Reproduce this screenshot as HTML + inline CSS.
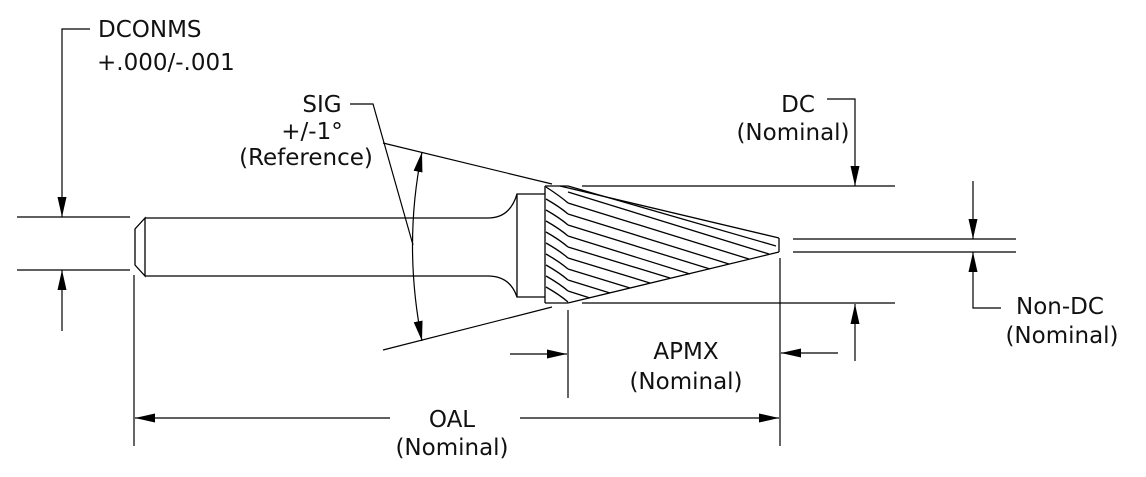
<!DOCTYPE html>
<html><head><meta charset="utf-8"><style>
html,body{margin:0;padding:0;background:#fff;}
svg{display:block;}
text{font-family:"DejaVu Sans","Liberation Sans",sans-serif;font-size:23px;fill:#111;}
</style></head><body>
<svg width="1146" height="477" viewBox="0 0 1146 477" xmlns="http://www.w3.org/2000/svg">
<defs>
<marker id="a" viewBox="0 0 20 9" refX="20" refY="4.5" markerWidth="20" markerHeight="9" markerUnits="userSpaceOnUse" orient="auto-start-reverse">
<path d="M0,0 L20,4.5 L0,9 Z" fill="#000"/></marker>
</defs>
<g stroke="#000" stroke-width="1.3" fill="none">
<path d="M145,218 L488,218 Q510,218 517,194 L545,194"/>
<path d="M145,276 L488,276 Q510,276 517,297 L545,297"/>
<path d="M145,218 L135,229 L135,265 L145,276 Z"/>
<line x1="517" y1="194" x2="517" y2="297"/>
<line x1="545" y1="186" x2="545" y2="303"/>
<line x1="545" y1="186" x2="568" y2="186"/>
<line x1="545" y1="303" x2="568" y2="303"/>
<line x1="560" y1="186" x2="779" y2="238"/>
<line x1="568" y1="303" x2="779" y2="252"/>
<line x1="779" y1="238" x2="779" y2="252"/>
<line x1="568" y1="186" x2="776" y2="246"/>
<line x1="568" y1="192" x2="769" y2="254"/>
<line x1="568" y1="203" x2="749" y2="259"/>
<line x1="568" y1="214" x2="729" y2="264"/>
<line x1="568" y1="225" x2="710" y2="269"/>
<line x1="568" y1="236" x2="690" y2="274"/>
<line x1="568" y1="247" x2="670" y2="278"/>
<line x1="568" y1="258" x2="650" y2="283"/>
<line x1="568" y1="269" x2="630" y2="288"/>
<line x1="568" y1="280" x2="610" y2="293"/>
<line x1="568" y1="291" x2="590" y2="298"/>
<path d="M546,187 Q560,196 568,203 M546,199 Q560,207 568,214 M546,210 Q560,218 568,225 M546,221 Q560,229 568,236 M546,232 Q560,240 568,247 M546,243 Q560,251 568,258 M546,254 Q560,262 568,269 M546,265 Q560,273 568,280 M546,276 Q560,284 568,291 M546,287 Q560,295 568,302"/>
</g>
<g stroke="#000" stroke-width="1.2" fill="none">
<line x1="17" y1="217" x2="130" y2="217"/>
<line x1="17" y1="270" x2="130" y2="270"/>
<path d="M90,29 L62,29 L62,217" marker-end="url(#a)"/>
<line x1="62" y1="331" x2="62" y2="270" marker-end="url(#a)"/>
<line x1="134" y1="275" x2="134" y2="446"/>
<line x1="780" y1="258" x2="780" y2="446"/>
<line x1="390" y1="418" x2="135" y2="418" marker-end="url(#a)"/>
<line x1="520" y1="418" x2="779" y2="418" marker-end="url(#a)"/>
<line x1="568" y1="310" x2="568" y2="398"/>
<line x1="510" y1="354" x2="567" y2="354" marker-end="url(#a)"/>
<line x1="838" y1="353" x2="781" y2="353" marker-end="url(#a)"/>
<line x1="582" y1="186" x2="895" y2="186"/>
<line x1="582" y1="303" x2="895" y2="303"/>
<path d="M827,99 L855,99 L855,186" marker-end="url(#a)"/>
<line x1="855" y1="361" x2="855" y2="304" marker-end="url(#a)"/>
<line x1="793" y1="239" x2="1016" y2="239"/>
<line x1="793" y1="252" x2="1016" y2="252"/>
<line x1="973" y1="181" x2="973" y2="239" marker-end="url(#a)"/>
<path d="M1001,308 L973,308 L973,252" marker-end="url(#a)"/>
<line x1="383" y1="143" x2="552" y2="184"/>
<line x1="383" y1="350" x2="552" y2="307"/>
<path d="M422,152 Q403,245 422,341" marker-start="url(#a)" marker-end="url(#a)"/>
<path d="M350,104 L373,104 L413,245"/>
</g>
<text x="98" y="37">DCONMS</text>
<text x="97" y="70">+.000/-.001</text>
<text x="322" y="112" text-anchor="middle">SIG</text>
<text x="312" y="139" text-anchor="middle">+/-1°</text>
<text x="306" y="165" text-anchor="middle">(Reference)</text>
<text x="798" y="112" text-anchor="middle">DC</text>
<text x="793" y="140" text-anchor="middle">(Nominal)</text>
<text x="1060" y="314" text-anchor="middle">Non-DC</text>
<text x="1062" y="343" text-anchor="middle">(Nominal)</text>
<text x="686" y="359" text-anchor="middle">APMX</text>
<text x="686" y="389" text-anchor="middle">(Nominal)</text>
<text x="452" y="427" text-anchor="middle">OAL</text>
<text x="452" y="455" text-anchor="middle">(Nominal)</text>
</svg>
</body></html>
